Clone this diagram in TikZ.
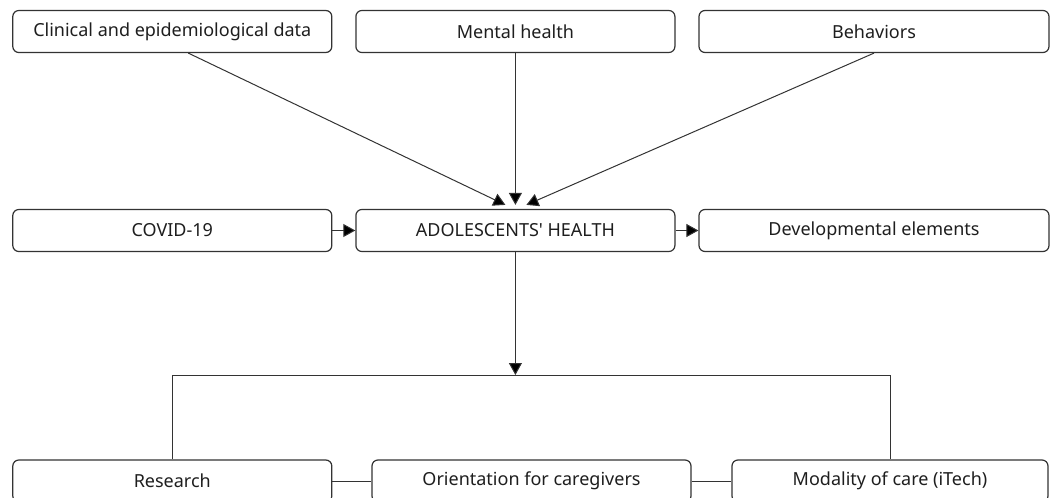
\documentclass[tikz,border=0pt]{standalone}
\usepackage{fontspec}
\setmainfont{Noto Sans}
\usepackage{tikz}
\usetikzlibrary{arrows.meta}
\definecolor{linegray}{HTML}{333333}
\definecolor{textgray}{HTML}{1E1E1E}

\begin{document}
\begin{tikzpicture}[x=1pt,y=-1pt,line width=1.2pt,
    main/.style = {draw=linegray, rounded corners=6pt, minimum width=319pt, minimum height=42pt,
      text=textgray, font=\fontsize{18}{21}\selectfont, inner sep=0pt},
    arr/.style = {-{Triangle[length=12pt,width=13pt]}}]
      \useasboundingbox (0,0) rectangle (1050,498);
      \clip (0,0) rectangle (1050,498);

      \node[main] at (172.3,31.5) (1) {Clinical and epidemiological data};
      \node[main] at (515.4,31.5) (2) {Mental health};
      \node[main, minimum width=350pt] at (874,31.5) (3) {Behaviors};
      \node[main] at (172.3,230.5) (4) {COVID-19};
      \node[main] at (515.4,230.5) (5) {ADOLESCENTS\textquotesingle{} HEALTH};
      \node[main, minimum width=350pt] at (874,230.5) (6) {Developmental elements};
      \node[main] at (172.3,481) (7) {Research};
      \node[main] at (531.5,481) (8) {Orientation for caregivers};
      \node[main, minimum width=316pt] at (890,481) (9) {Modality of care (iTech)};
      \coordinate (j) at (515.4,375);

      \path[draw=linegray, line width=1pt]
      ([xshift=16pt]1.south) edge[arr] ([xshift=-10pt,yshift=4pt]5.north)
      (2) edge[arr] ([yshift=4pt]5.north)
      (3.south) edge[arr] ([xshift=11pt,yshift=4pt]5.north)

      (4) edge[arr] (5)
      (5) edge[arr] (6)
      (5) edge[arr] (j)

      (7) edge (8)
      (8) edge (9)
      ;
      \draw[linegray, line width=1pt] (7.north) -- (7.north |- j) -- (9.north |- j) -- (9.north);
    \end{tikzpicture}
\end{document}
